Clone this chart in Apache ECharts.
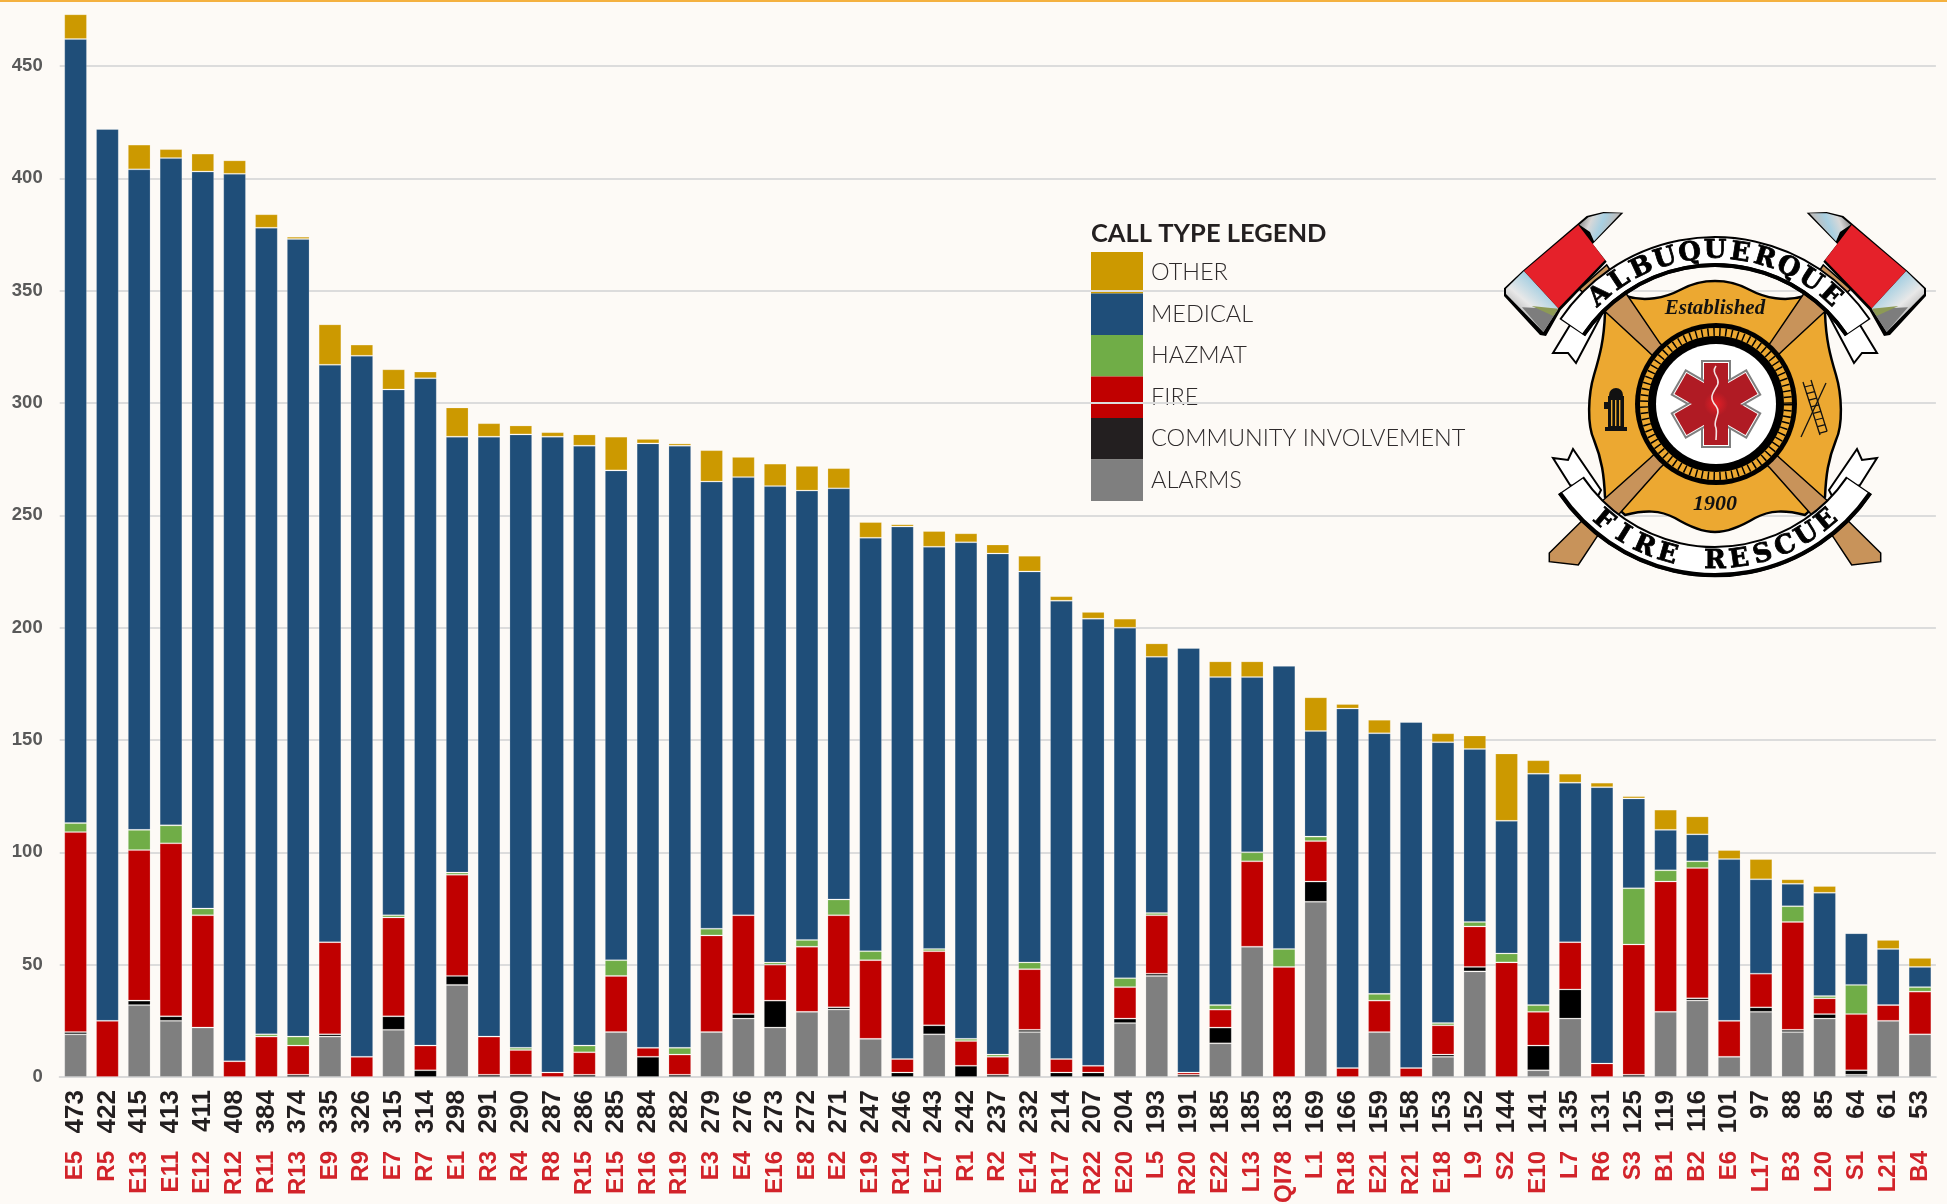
<!DOCTYPE html>
<html>
<head>
<meta charset="utf-8">
<title>Call types by unit</title>
<script src="https://cdn.jsdelivr.net/npm/echarts@6/dist/echarts.min.js"></script>
<style>
    html, body { margin: 0; padding: 0; background: #fdfaf6; overflow: hidden; }
    #chart { width: 1947px; height: 1204px; }
</style>
</head>
<body>
<div id="chart"></div>
<script>
// unit names and the total printed under each bar
var units = ['E5', 'R5', 'E13', 'E11', 'E12', 'R12', 'R11', 'R13', 'E9', 'R9', 'E7', 'R7', 'E1', 'R3', 'R4', 'R8', 'R15', 'E15', 'R16', 'R19',
    'E3', 'E4', 'E16', 'E8', 'E2', 'E19', 'R14', 'E17', 'R1', 'R2', 'E14', 'R17', 'R22', 'E20', 'L5', 'R20', 'E22', 'L13', 'QI78', 'L1',
    'R18', 'E21', 'R21', 'E18', 'L9', 'S2', 'E10', 'L7', 'R6', 'S3', 'B1', 'B2', 'E6', 'L17', 'B3', 'L20', 'S1', 'L21', 'B4'];
var totals = [473, 422, 415, 413, 411, 408, 384, 374, 335, 326, 315, 314, 298, 291, 290, 287, 286, 285, 284, 282,
    279, 276, 273, 272, 271, 247, 246, 243, 242, 237, 232, 214, 207, 204, 193, 191, 185, 185, 183, 169,
    166, 159, 158, 153, 152, 144, 141, 135, 131, 125, 119, 116, 101, 97, 88, 85, 64, 61, 53];

// call counts per type
var alarms = [19, 0, 32, 25, 22, 0, 0, 0, 18, 0, 21, 0, 41, 0, 0, 0, 0, 20, 0, 0,
    20, 26, 22, 29, 30, 17, 0, 19, 0, 0, 20, 0, 0, 24, 45, 0, 15, 58, 0, 78,
    0, 20, 0, 9, 47, 0, 3, 26, 0, 0, 29, 34, 9, 29, 20, 26, 1, 25, 19];
var community = [1, 0, 2, 2, 0, 0, 0, 1, 1, 0, 6, 3, 4, 1, 1, 0, 1, 0, 9, 1,
    0, 2, 12, 0, 1, 0, 2, 4, 5, 1, 1, 2, 2, 2, 1, 1, 7, 0, 0, 9,
    0, 0, 0, 1, 2, 0, 11, 13, 0, 1, 0, 1, 0, 2, 1, 2, 2, 0, 0];
var fire = [89, 25, 67, 77, 50, 7, 18, 13, 41, 9, 44, 11, 45, 17, 11, 2, 10, 25, 4, 9,
    43, 44, 16, 29, 41, 35, 6, 33, 11, 8, 27, 6, 3, 14, 26, 1, 8, 38, 49, 18,
    4, 14, 4, 13, 18, 51, 15, 21, 6, 58, 58, 58, 16, 15, 48, 7, 25, 7, 19];
var hazmat = [4, 0, 9, 8, 3, 0, 1, 4, 0, 0, 1, 0, 1, 0, 1, 0, 3, 7, 0, 3,
    3, 0, 1, 3, 7, 4, 0, 1, 1, 1, 3, 0, 0, 4, 1, 0, 2, 4, 8, 2,
    0, 3, 0, 1, 2, 4, 3, 0, 0, 25, 5, 3, 0, 0, 7, 1, 13, 0, 2];
var medical = [349, 397, 294, 297, 328, 395, 359, 355, 257, 312, 234, 297, 194, 267, 273, 283, 267, 218, 269, 268,
    199, 195, 212, 200, 183, 184, 237, 179, 221, 223, 174, 204, 199, 156, 114, 189, 146, 78, 126, 47,
    160, 116, 154, 125, 77, 59, 103, 71, 123, 40, 18, 12, 72, 42, 10, 46, 23, 25, 9];
var other = [11, 0, 11, 4, 8, 6, 6, 1, 18, 5, 9, 3, 13, 6, 4, 2, 5, 15, 2, 1,
    14, 9, 10, 11, 9, 7, 1, 7, 4, 4, 7, 2, 3, 4, 6, 0, 7, 7, 0, 15,
    2, 6, 0, 4, 6, 30, 6, 4, 2, 1, 9, 8, 4, 9, 2, 3, 0, 4, 4];

var typeNames = ['ALARMS', 'COMMUNITY INVOLVEMENT', 'FIRE', 'HAZMAT', 'MEDICAL', 'OTHER'];
var typeValues = [alarms, community, fire, hazmat, medical, other];
var typeColors = ['#7f7f7f', '#000000', '#c00000', '#70ad47', '#1f4e79', '#cc9900'];

var labelFont = '"Liberation Sans", Arial, sans-serif';
var legendFont = 'Lato, "Noto Sans", sans-serif';
var gold = '#eca831';
var wood = '#c8935a';

var logo = [];

// zoomed crops of the badge were read in 3x pixels, these bring them back to the page
function top3(p) { return [1490 + p[0] / 3, 200 + p[1] / 3]; }

function poly(points, fill, stroke, width) {
    return { type: 'polygon', z: 10, shape: { points: points }, style: { fill: fill, stroke: stroke || 'transparent', lineWidth: width || 0 } };
}
function ring(cx, cy, r, stroke, width, dash) {
    return { type: 'circle', z: 10, shape: { cx: cx, cy: cy, r: r }, style: { fill: 'transparent', stroke: stroke, lineWidth: width, lineDash: dash || null } };
}
function band(cy, r, from, to, stroke, width) {
    return { type: 'arc', z: 10, shape: { cx: 1715, cy: cy, r: r, startAngle: from * Math.PI / 180, endAngle: to * Math.PI / 180 }, style: { fill: 'transparent', stroke: stroke, lineWidth: width } };
}
function seg(a, b, color, width) {
    return { type: 'line', z: 10, shape: { x1: a[0], y1: a[1], x2: b[0], y2: b[1] }, style: { stroke: color, lineWidth: width } };
}
// left half of the badge, then the same thing flipped around the centre line
function bothSides(build) {
    logo.push({ type: 'group', children: build() });
    logo.push({ type: 'group', x: 3430, scaleX: -1, children: build() });
}
function arcText(text, cy, r, span, bottom, size) {
    for (var i = 0; i < text.length; i++) {
        if (text[i] === ' ') continue;
        var a = (-span + 2 * span * i / (text.length - 1)) * Math.PI / 180;
        logo.push({
            type: 'text', z: 11,
            x: 1715 + r * Math.sin(a),
            y: bottom ? cy + r * Math.cos(a) : cy - r * Math.cos(a),
            rotation: bottom ? a : -a,
            style: { text: text[i], fill: '#000', stroke: '#000', lineWidth: 0.8, font: 'bold ' + size + 'px "DejaVu Serif", serif', align: 'center', verticalAlign: 'middle', textAlign: 'center', textVerticalAlign: 'middle' }
        });
    }
}

echarts.graphic.registerShape('badgeShield', echarts.graphic.extendPath(
    'M1625,296 C1645,302 1665,298 1680,290 C1695,282 1705,281 1715,281 C1725,281 1735,282 1750,290 C1765,298 1785,302 1805,296 ' +
    'L1825,313 C1826,340 1830,355 1836,375 C1842,395 1843,425 1836,440 C1828,460 1826,475 1825,497 L1805,515 ' +
    'C1785,510 1770,510 1755,518 C1740,527 1725,532 1715,532 C1705,532 1690,527 1675,518 C1660,510 1645,510 1625,515 ' +
    'L1605,497 C1604,475 1602,460 1594,440 C1587,425 1588,395 1594,375 C1600,355 1604,340 1605,313 Z', {}));
echarts.graphic.registerShape('badgeSnake', echarts.graphic.extendPath(
    'M1716,366 C1710,374 1722,378 1717,386 C1712,394 1709,398 1716,406 C1722,414 1712,420 1716,428 C1717,432 1716,436 1716,440', {}));

function buildLogo() {
    // handles first, one of each axe
    var handle = function () {
        return [poly([[1579.3, 289.3], [1606.7, 265], [1660, 343.3], [1780, 458.3], [1830, 503], [1880.7, 553], [1880.7, 561.7], [1851.7, 565],
            [1833, 536.7], [1810, 513], [1770, 468], [1646.7, 350], [1600, 306.7]], wood, '#000', 1.5)];
    };
    logo.push({ type: 'badgeShield', z: 10, style: { fill: gold, stroke: '#000', lineWidth: 2.5 } });
    bothSides(handle);

    // maltese cross centre: black ring, rope, white disc
    logo.push({ type: 'circle', z: 10, shape: { cx: 1716, cy: 404, r: 81 }, style: { fill: '#000' } });
    logo.push(ring(1716, 404, 72, gold, 8));
    logo.push(ring(1716, 404, 72, '#000', 8, [1.5, 4.5]));
    logo.push({ type: 'circle', z: 10, shape: { cx: 1716, cy: 404, r: 60 }, style: { fill: '#fff' } });

    // star of life, three bars turned around the centre
    var red = new echarts.graphic.RadialGradient(0.5, 0.5, 0.5, [{ offset: 0, color: '#e51f27' }, { offset: 1, color: '#b01b24' }]);
    [0, 60, 120].forEach(function (deg) {
        logo.push({ type: 'rect', z: 10, x: 1716, y: 404, rotation: deg * Math.PI / 180, shape: { x: -14, y: -43, width: 28, height: 86 }, style: { fill: '#fff', stroke: '#7f7f7f', lineWidth: 2 } });
    });
    [0, 60, 120].forEach(function (deg) {
        logo.push({ type: 'rect', z: 10, x: 1716, y: 404, rotation: deg * Math.PI / 180, shape: { x: -12, y: -41, width: 24, height: 82 }, style: { fill: red } });
    });
    logo.push({ type: 'badgeSnake', z: 10, style: { fill: 'transparent', stroke: '#f4e3e3', lineWidth: 1.6 } });

    // hydrant
    logo.push({ type: 'circle', z: 10, shape: { cx: 1616, cy: 395, r: 7 }, style: { fill: '#111' } });
    logo.push({ type: 'rect', z: 10, shape: { x: 1608, y: 396, width: 16, height: 32 }, style: { fill: '#111' } });
    logo.push({ type: 'rect', z: 10, shape: { x: 1605, y: 427, width: 22, height: 4 }, style: { fill: '#111' } });
    logo.push({ type: 'rect', z: 10, shape: { x: 1604, y: 402, width: 5, height: 7 }, style: { fill: '#111' } });
    [1611, 1615, 1619].forEach(function (x) {
        logo.push({ type: 'rect', z: 10, shape: { x: x, y: 400, width: 1.4, height: 26 }, style: { fill: gold } });
    });

    // ladder and pike
    logo.push(seg([1803, 382], [1820, 435], '#111', 1.3));
    logo.push(seg([1811, 380], [1827, 431], '#111', 1.3));
    for (var i = 0; i < 8; i++) {
        logo.push(seg([1804.5 + i * 2.2, 387 + i * 6.6], [1812.5 + i * 2.1, 385 + i * 6.6], '#111', 1.2));
    }
    logo.push(seg([1826, 383], [1801, 437], '#111', 1.3));

    // axe heads
    bothSides(function () {
        var metalA = new echarts.graphic.LinearGradient(0, 0, 1, 0.6, [{ offset: 0, color: '#6f6f6f' }, { offset: 0.3, color: '#d8d8d8' }, { offset: 0.55, color: '#a8d0e2' }, { offset: 0.8, color: '#bdbdbd' }, { offset: 1, color: '#7a7a7a' }]);
        var metalB = new echarts.graphic.LinearGradient(0, 1, 1, 0, [{ offset: 0, color: '#777' }, { offset: 0.45, color: '#e8e8e8' }, { offset: 0.7, color: '#a8d0e2' }, { offset: 1, color: '#666' }]);
        return [
            poly([[400, 38], [340, 36], [290, 48], [262, 72], [98, 212], [42, 265], [42, 288], [150, 405], [168, 408], [212, 330], [350, 185], [308, 132]].map(top3), '#000'),
            poly([[268, 74], [295, 52], [340, 40], [392, 40], [312, 124], [300, 96]].map(top3), metalA),
            poly([[102, 213], [205, 325], [160, 396], [48, 282], [48, 266]].map(top3), metalB),
            poly([[96, 322], [205, 327], [160, 396]].map(top3), '#7d7d7d'),
            poly([[125, 318], [204, 326], [190, 348]].map(top3), '#8d9a55'),
            poly([[265, 75], [345, 180], [205, 325], [102, 213]].map(top3), '#e5212a')
        ];
    });

    // ribbons: swallow tails under the arcs
    bothSides(function () {
        return [
            poly([[1570, 325], [1553, 353], [1568, 353], [1576, 363], [1602, 314]], '#fff', '#000', 2),
            poly([[1553, 458], [1568, 460], [1573, 449], [1601, 490], [1597, 498], [1570, 485]], '#fff', '#000', 2)
        ];
    });
    logo.push(band(423.6, 172, 213.9, 326.1, '#000', 31));
    logo.push(band(423.6, 173, 214.3, 325.7, '#fff', 25));
    logo.push(band(423.6, 158.5, 214, 326, '#000', 3.5));
    logo.push(band(387.5, 174, 34.2, 145.8, '#000', 31));
    logo.push(band(387.5, 173, 34.6, 145.4, '#fff', 25));
    logo.push(band(387.5, 188, 34.2, 145.8, '#000', 3.5));

    arcText('ALBUQUERQUE', 423.6, 172, 42, false, 26);
    arcText('FIRE RESCUE', 387.5, 174, 40, true, 26);

    logo.push({ type: 'text', z: 11, x: 1715, y: 309, style: { text: 'Established', fill: '#111', font: 'italic bold 21px "Liberation Serif", serif', align: 'center', verticalAlign: 'middle', textAlign: 'center', textVerticalAlign: 'middle' } });
    logo.push({ type: 'text', z: 11, x: 1715, y: 504, style: { text: '1900', fill: '#111', font: 'italic bold 22px "Liberation Serif", serif', align: 'center', verticalAlign: 'middle', textAlign: 'center', textVerticalAlign: 'middle' } });
}
buildLogo();

// top orange rule
logo.push({ type: 'rect', z: 12, shape: { x: 0, y: 0, width: 1947, height: 2 }, style: { fill: '#f4b13f' } });

var myChart = echarts.init(document.getElementById('chart'));

var series = typeNames.map(function (name, i) {
    return {
        name: name,
        type: 'bar',
        stack: 'calls',
        barWidth: 22.7,
        data: typeValues[i],
        itemStyle: { color: typeColors[i], borderColor: 'rgba(255,255,255,0.18)', borderWidth: 1 },
        emphasis: { disabled: true }
    };
});

var legendData = typeNames.slice().reverse().map(function (name) {
    return {
        name: name,
        itemStyle: { color: name === 'COMMUNITY INVOLVEMENT' ? '#231f20' : typeColors[typeNames.indexOf(name)], borderWidth: 0 }
    };
});

var option = {
    backgroundColor: '#fdfaf6',
    animation: false,
    title: {
        text: 'CALL TYPE LEGEND',
        left: 1091,
        top: 221,
        padding: 0,
        textStyle: { fontFamily: legendFont, fontSize: 25.5, fontWeight: 'bold', color: '#231f20' }
    },
    legend: {
        show: true,
        z: -1,
        orient: 'vertical',
        left: 1091,
        top: 252,
        padding: 0,
        itemWidth: 52,
        itemHeight: 41.5,
        itemGap: 0,
        icon: 'rect',
        selectedMode: false,
        data: legendData,
        textStyle: { fontFamily: legendFont, fontSize: 23.5, fontWeight: 300, color: '#2e2a2b', padding: [2, 0, 0, 3] }
    },
    // the QI78 label runs off the page in the reference, so no shrinking to keep labels inside
    grid: { left: 59.7, width: 1876.2, top: 14.3, bottom: 127, containLabel: false, outerBoundsMode: 'none' },
    xAxis: [{
        type: 'category',
        data: units,
        axisTick: { show: false },
        axisLine: { lineStyle: { color: '#d9d9d9', width: 2 } },
        axisLabel: {
            interval: 0,
            rotate: 90,
            margin: 13,
            color: '#231f20',
            fontFamily: labelFont,
            fontWeight: 'bold',
            fontSize: 26,
            formatter: function (value, index) { return totals[index]; }
        }
    }, {
        type: 'category',
        position: 'bottom',
        offset: 60,
        data: units,
        axisTick: { show: false },
        axisLine: { show: false },
        axisLabel: {
            interval: 0,
            rotate: 90,
            margin: 14,
            color: '#d2232a',
            fontFamily: labelFont,
            fontWeight: 'bold',
            fontSize: 24
        }
    }],
    yAxis: {
        type: 'value',
        min: 0,
        max: 473,
        interval: 50,
        axisLine: { show: false },
        axisTick: { show: false },
        splitLine: { showMaxLine: false, lineStyle: { color: '#dcdcdc', width: 2 } },
        axisLabel: {
            showMaxLabel: false,
            margin: 17,
            color: '#595959',
            fontFamily: labelFont,
            fontWeight: 'bold',
            fontSize: 18.5
        }
    },
    series: series,
    graphic: { elements: logo }
};

myChart.setOption(option);
window.addEventListener('resize', function () {
    myChart.resize();
});
</script>
</body>
</html>
